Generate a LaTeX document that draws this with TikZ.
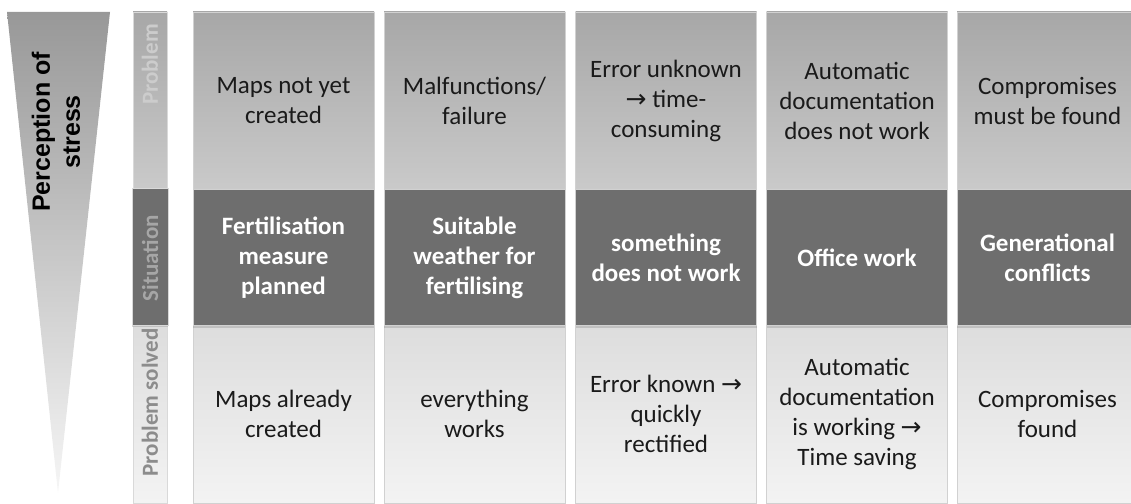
\documentclass[tikz,border=0pt]{standalone}
\usepackage{fontspec}
\setmainfont{Carlito}
\newfontfamily\headfont{Liberation Sans}
\newfontfamily\arrowfont{DejaVu Sans}
\newcommand{\toarrow}{{\arrowfont →}}
\usetikzlibrary{positioning,shadows}
\definecolor{probtop}{HTML}{A7A7A7}
\definecolor{probbot}{HTML}{CACACA}
\definecolor{sitfill}{HTML}{6E6E6E}
\definecolor{solvtop}{HTML}{DDDDDD}
\definecolor{solvbot}{HTML}{F3F3F3}
\definecolor{wedgetop}{HTML}{989898}
\definecolor{wedgebot}{HTML}{F6F6F6}
\definecolor{celltext}{HTML}{1A1A1A}
\tikzset{
  cellbase/.style={draw=black!18, line width=0.6pt, minimum width=181pt, inner sep=0pt, align=center},
  probcell/.style={cellbase, top color=probtop, bottom color=probbot, minimum height=178pt, text=celltext, font=\fontsize{25}{30}\selectfont},
  sitcell/.style={cellbase, fill=sitfill, minimum height=136pt, text=white, font=\bfseries\fontsize{25}{30}\selectfont, drop shadow={shadow xshift=0pt, shadow yshift=-2pt, opacity=0.3}},
  solvcell/.style={cellbase, top color=solvtop, bottom color=solvbot, minimum height=178pt, text=celltext, font=\fontsize{25}{30}\selectfont},
  sidebar/.style={draw=black!15, line width=0.5pt, minimum width=34pt, inner sep=0pt},
  sidelabel/.style={rotate=90, inner sep=0pt, font=\bfseries\fontsize{23}{27}\selectfont},
  stresslabel/.style={rotate=90, align=center, inner sep=0pt, font=\headfont\bfseries\fontsize{25}{30}\selectfont}
}

\begin{document}
\begin{tikzpicture}[x=1pt, y=-1pt]
  \useasboundingbox (0,0) rectangle (1131,503);
  \clip (0,0) rectangle (1131,503);
  % stress wedge
  \shade[top color=wedgetop, bottom color=wedgebot] (7,12) -- (110,12) -- (58,493) -- cycle;
  \node[stresslabel] (stress) at (56,132) {Perception of\\stress};
  % side bar
  \node[sidebar, top color=probtop, bottom color=probbot, minimum height=178pt] (barprob) at (150,101) {};
  \node[sidebar, top color=solvtop, bottom color=solvbot, minimum height=178pt] (barsolv) at (150,414) {};
  \node[sidebar, fill=sitfill, minimum width=36pt, minimum height=137pt, drop shadow={shadow xshift=0pt, shadow yshift=-2pt, opacity=0.3}] (barsit) at (150,256.5) {};
  \node[sidelabel, text=black!20] (lblprob) at (150,64.5) {Problem};
  \node[sidelabel, text=black!35] (lblsit) at (150,258) {Situation};
  \node[sidelabel, text=black!45] (lblsolv) at (150,402.5) {Problem solved};
  % problem row
  \node[probcell] (p1) at (283.5,101) {Maps not yet\\created};
  \node[probcell] (p2) at (474.5,101) {Malfunctions/\\failure};
  \node[probcell] (p3) at (666,101) {Error unknown\\\toarrow{} time-\\consuming};
  \node[probcell] (p4) at (857,101) {Automatic\\documentation\\does not work};
  \node[probcell] (p5) at (1047.5,101) {Compromises\\must be found};
  % problem solved row
  \node[solvcell] (s1) at (283.5,414) {Maps already\\created};
  \node[solvcell] (s2) at (474.5,414) {everything\\works};
  \node[solvcell] (s3) at (666,414) {Error known \toarrow\\quickly\\rectified};
  \node[solvcell] (s4) at (857,414) {Automatic\\documentation\\is working \toarrow\\Time saving};
  \node[solvcell] (s5) at (1047.5,414) {Compromises\\found};
  % situation row
  \node[sitcell] (t1) at (283.5,257.5) {Fertilisation\\measure\\planned};
  \node[sitcell] (t2) at (474.5,257.5) {Suitable\\weather for\\fertilising};
  \node[sitcell] (t3) at (666,257.5) {something\\does not work};
  \node[sitcell] (t4) at (857,257.5) {Office work};
  \node[sitcell] (t5) at (1047.5,257.5) {Generational\\conflicts};
\end{tikzpicture}
\end{document}
